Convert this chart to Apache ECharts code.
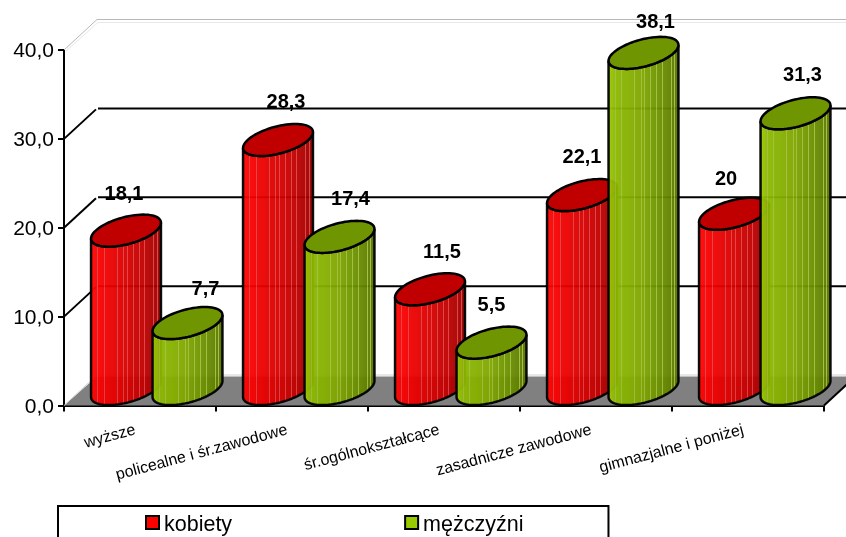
<!DOCTYPE html>
<html><head><meta charset="utf-8">
<style>html,body{margin:0;padding:0;background:#fff}#c{width:846px;height:537px}</style>
<script src="https://cdn.jsdelivr.net/npm/echarts@6/dist/echarts.min.js"></script></head>
<body><div id="c"></div>
<script>
const categories = ['wyższe','policealne i śr.zawodowe','śr.ogólnokształcące','zasadnicze zawodowe','gimnazjalne i poniżej'];
const kobiety = [18.1,28.3,11.5,22.1,20];
const mezczyzni = [7.7,17.4,5.5,38.1,31.3];
const wallTicks = [10,20,30];
const labelOffsetK = [[-2,-36],[8,-37],[12,-37],[0,-38],[-8,-34]];
const labelOffsetM = [[18,-34],[11,-37],[0,-37],[12,-30],[7,-38]];

const DEPTH_X = 33, DEPTH_Y = 30.5, RX = 36, RY = 13.5, TILT = -15*Math.PI/180, BASE_LIFT = 16.5, TOP_DROP = 2.5;
function ellPt(cx,cy,t){
  const x=RX*Math.cos(t), y=RY*Math.sin(t);
  return [cx+x*Math.cos(TILT)-y*Math.sin(TILT), cy+x*Math.sin(TILT)+y*Math.cos(TILT)];
}
function extremeT(){ return Math.atan2(-RY*Math.sin(TILT), RX*Math.cos(TILT)); }
function bodyGradient(stops, stripe, stripes){
  const cs=[];
  const base=(o)=>{
    for(let i=1;i<stops.length;i++){ if(o<=stops[i][0]){
      const a=stops[i-1],b=stops[i],f=(o-a[0])/(b[0]-a[0]);
      return 'rgb('+[0,1,2].map(k=>Math.round(a[1][k]+(b[1][k]-a[1][k])*f)).join(',')+')';
    }}
    return 'rgb('+stops[stops.length-1][1].join(',')+')';
  };
  stops.forEach(s=>cs.push({offset:s[0],color:base(s[0])}));
  stripes.forEach(o=>{
    const w=0.007;
    cs.push({offset:o-w,color:base(o-w)},{offset:o-w,color:stripe},{offset:o+w,color:stripe},{offset:o+w,color:base(o+w)});
  });
  cs.sort((a,b)=>a.offset-b.offset);
  return {type:'linear',x:0,y:0,x2:1,y2:0,colorStops:cs};
}
const stripePos=[0.11,0.20,0.38,0.47,0.52,0.60,0.68,0.76,0.88,0.93];
const redGrad=bodyGradient([[0,[255,20,20]],[0.06,[255,0,0]],[0.4,[225,0,0]],[0.75,[190,0,0]],[1,[145,0,0]]],'#e03c3c',stripePos);
const greenGrad=bodyGradient([[0,[160,205,0]],[0.1,[140,186,0]],[0.45,[128,168,0]],[0.8,[102,138,0]],[1,[85,112,0]]],'#a0bc38',stripePos);

function cylinder(values,offsetFrac,grad,top,lblOff){
  return function(params,api){
    const i=api.value(0), v=api.value(1);
    const base=api.coord([i,0]), tp=api.coord([i,v]);
    const band=api.size([1,0])[0];
    const cx=base[0]+band*offsetFrac;
    const by=base[1]-BASE_LIFT, ty=tp[1]-BASE_LIFT+TOP_DROP;
    const t0=extremeT();
    const pts=[];
    const N=48;
    for(let k=0;k<=N;k++){ pts.push(ellPt(cx,by,Math.PI+t0-Math.PI*k/N)); }
    for(let k=0;k<=N;k++){ pts.push(ellPt(cx,ty,t0+Math.PI*k/N)); }
    const topPts=[];
    for(let k=0;k<72;k++){ topPts.push(ellPt(cx,ty,2*Math.PI*k/72)); }
    return {type:'group',children:[
      {type:'polygon',shape:{points:pts},style:{fill:grad,stroke:'#000',lineWidth:2.5,opacity:0.95}},
      {type:'polygon',shape:{points:topPts},style:{fill:top,stroke:'#000',lineWidth:2.5}},
      {type:'text',z2:100,style:{text:String(v).replace('.',','),x:cx+lblOff[i][0],y:ty+lblOff[i][1],align:'center',verticalAlign:'middle',
        font:'bold 20px "Liberation Sans", Arial, sans-serif',fill:'#000'}}
    ]};
  };
}
function wallItem(params,api){
  const v=api.value(0);
  const a=api.coord([0,v]);
  const left=a[0]-api.size([1,0])[0]/2;
  const y=a[1];
  const far=left+900;
  const isTop=v===40;
  if(v===0){
    const right=left+api.size([1,0])[0]*5;
    return {type:'group',children:[
      {type:'polygon',shape:{points:[[left,y],[right,y],[right+DEPTH_X,y-DEPTH_Y+1.5],[left+DEPTH_X,y-DEPTH_Y+1.5]]},style:{fill:'#808080',stroke:null}},
      {type:'polyline',shape:{points:[[left,y],[left+DEPTH_X,y-DEPTH_Y],[far,y-DEPTH_Y]]},style:{fill:null,stroke:'#d0d0d0',lineWidth:1}},
      {type:'polyline',shape:{points:[[right,y],[right+DEPTH_X,y-DEPTH_Y]]},style:{fill:null,stroke:'#000',lineWidth:2}}
    ]};
  }
  if(isTop){
    return {type:'group',children:[
      {type:'polyline',shape:{points:[[left,y],[left+DEPTH_X,y-DEPTH_Y],[far,y-DEPTH_Y]]},style:{fill:null,stroke:'#b8b8b8',lineWidth:1}},
      {type:'polyline',shape:{points:[[left+2,y+1],[left+DEPTH_X+1,y-DEPTH_Y+3],[far,y-DEPTH_Y+3]]},style:{fill:null,stroke:'#e8e8e8',lineWidth:1}}
    ]};
  }
  return {type:'group',children:[
    {type:'polyline',shape:{points:[[left,y],[left+DEPTH_X-1,y-DEPTH_Y+1]]},style:{fill:null,stroke:'#000',lineWidth:2}},
    {type:'polyline',shape:{points:[[left+DEPTH_X+1,y-DEPTH_Y],[far,y-DEPTH_Y]]},style:{fill:null,stroke:'#000',lineWidth:2}}
  ]};
}
const chart=echarts.init(document.getElementById('c'),null,{renderer:'canvas'});
chart.setOption({
  animation:false,
  backgroundColor:'#fff',
  textStyle:{fontFamily:'"Liberation Sans", Arial, sans-serif'},
  grid:{left:64,top:50,width:760,height:355.5,containLabel:false},
  legend:{
    left:58,top:506,
    data:['kobiety','mężczyźni'],
    orient:'horizontal',
    icon:'rect',itemWidth:13,itemHeight:13,itemGap:172,
    padding:[8,85,14,87],
    borderColor:'#000',borderWidth:2,backgroundColor:'#fff',
    formatter:n=>'{a|'+n+'}',
    textStyle:{color:'#000',rich:{a:{fontSize:21.5,color:'#000',padding:[5,0,0,0],fontFamily:'"Liberation Sans", Arial, sans-serif'}}},
    itemStyle:{borderColor:'#000',borderWidth:2}
  },
  xAxis:{type:'category',data:categories,boundaryGap:true,
    axisLine:{show:true,lineStyle:{color:'#000',width:2},onZero:false},
    axisTick:{show:true,length:6,lineStyle:{color:'#000',width:2},alignWithLabel:false},
    axisLabel:{rotate:15,interval:0,margin:23,fontSize:16,color:'#000',padding:[0,5,0,0],fontFamily:'"Liberation Sans", Arial, sans-serif'},
    splitLine:{show:false}},
  yAxis:{type:'value',min:0,max:40,interval:10,
    axisLine:{show:true,lineStyle:{color:'#000',width:2}},
    axisTick:{show:true,length:6,lineStyle:{color:'#000',width:2}},
    axisLabel:{margin:10,color:'#000',formatter:v=>'{a|'+v.toFixed(1).replace('.',',')+'}',
      rich:{a:{fontSize:21,color:'#000',padding:[3,0,0,0],fontFamily:'"Liberation Sans", Arial, sans-serif'}}},
    splitLine:{show:false}},
  series:[
    {type:'custom',name:'wall',silent:true,clip:false,z:1,legendHoverLink:false,renderItem:wallItem,
      data:[0].concat(wallTicks,[40]).map(v=>[v]),encode:{x:[],y:0}},
    {type:'custom',name:'kobiety',z:3,clip:false,itemStyle:{color:'#ff0000'},
      renderItem:cylinder(kobiety,-14/152,redGrad,'#c00000',labelOffsetK),
      data:kobiety.map((v,i)=>[i,v]),encode:{x:0,y:1}},
    {type:'custom',name:'mężczyźni',z:4,clip:false,itemStyle:{color:'#99cc00'},
      renderItem:cylinder(mezczyzni,47.5/152,greenGrad,'#6f9600',labelOffsetM),
      data:mezczyzni.map((v,i)=>[i,v]),encode:{x:0,y:1}}
  ]
});
</script></body></html>
